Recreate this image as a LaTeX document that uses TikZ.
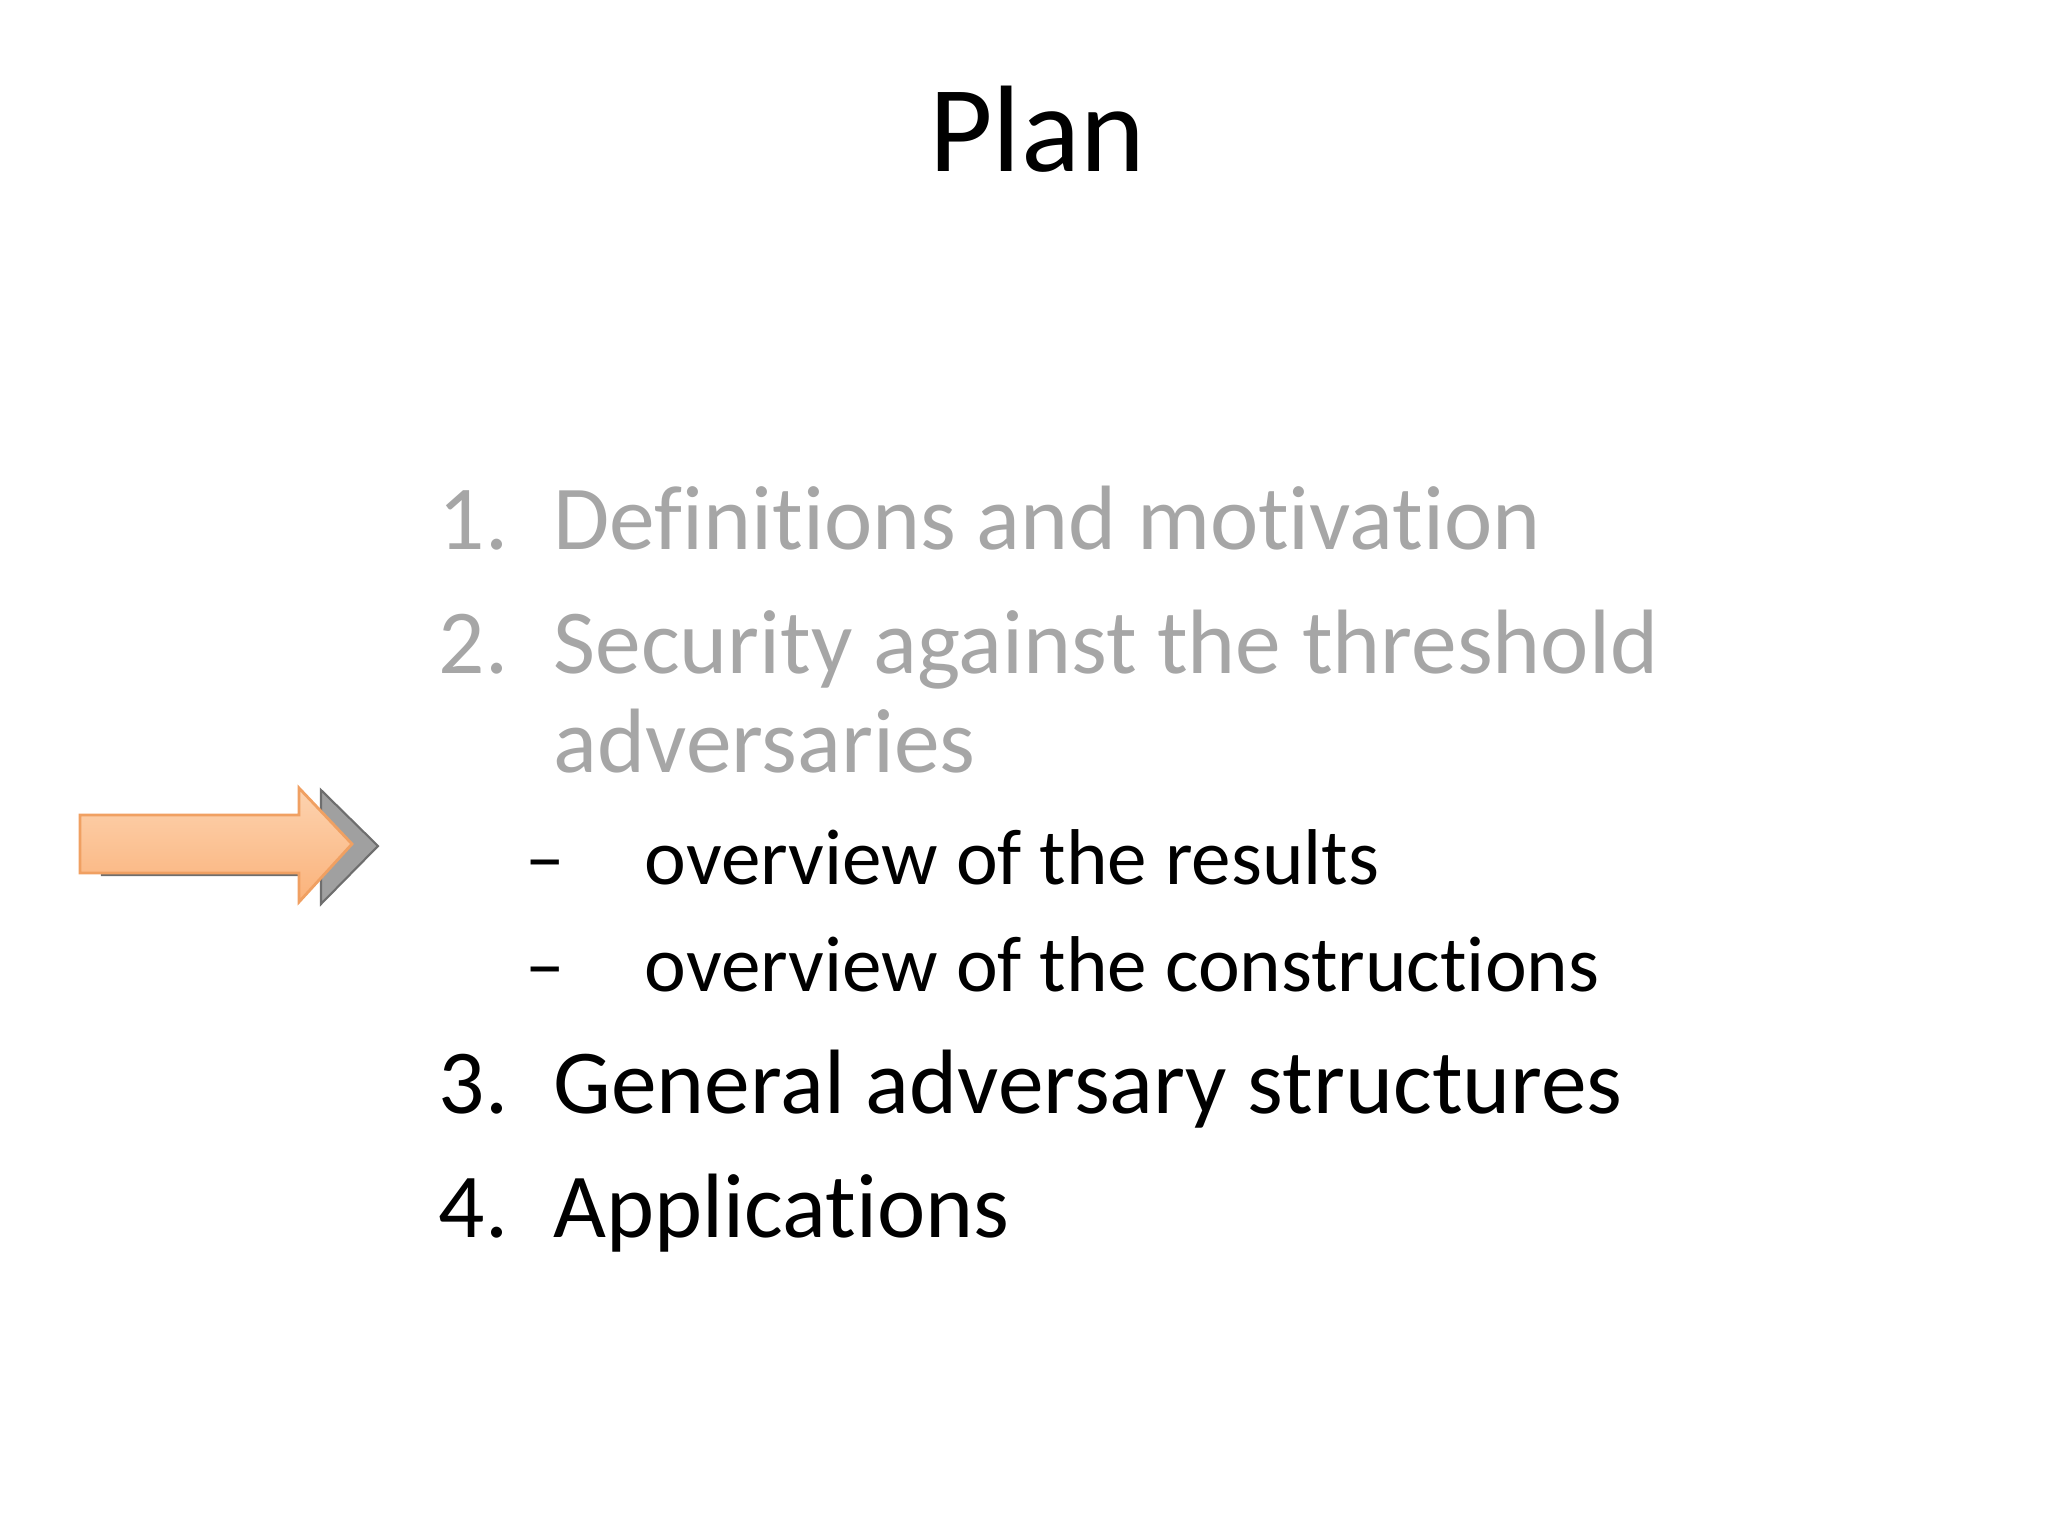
\documentclass[tikz,border=0pt]{standalone}
\usepackage{fontspec}
\setmainfont{Carlito}[RawFeature=-liga]
\definecolor{dim}{HTML}{A6A6A6}
\definecolor{arrline}{HTML}{F0A062}
\definecolor{arrtop}{HTML}{FCD3B0}
\definecolor{arrbot}{HTML}{FBB27A}
\begin{document}
\begin{tikzpicture}[x=0.01cm,y=-0.01cm,
  big/.style={anchor=base west,font=\fontsize{26}{30}\selectfont,inner sep=0pt},
  small/.style={anchor=base west,font=\fontsize{22.5}{24}\selectfont,inner sep=0pt}]
\useasboundingbox (0,0) rectangle (2048,1536);
\node[anchor=base,font=\fontsize{35}{40}\selectfont,inner sep=0pt] (title) at (1037,171) {Plan};
\node[big,text=dim] (n1) at (438,549) {1.};
\node[big,text=dim] (t1) at (553,549) {Definitions and motivation};
\node[big,text=dim] (n2) at (438,673) {2.};
\node[big,text=dim] (t2) at (553,673) {Security against the threshold};
\node[big,text=dim] (t2b) at (553,772) {adversaries};
\node[small] (d1) at (525,884) {–};
\node[small] (s1) at (644,884) {overview of the results};
\node[small] (d2) at (525,991) {–};
\node[small] (s2) at (644,991) {overview of the constructions};
\node[big] (n3) at (438,1113) {3.};
\node[big] (t3) at (553,1113) {General adversary structures};
\node[big] (n4) at (438,1237) {4.};
\node[big] (t4) at (553,1237) {Applications};
% shadow arrow
\begin{scope}[shift={(22,2)}]
\draw[fill={rgb,255:red,160;green,160;blue,160},draw={rgb,255:red,110;green,110;blue,110},line width=0.6pt]
 (80,815) -- (299,815) -- (299,788) -- (356,844) -- (299,902) -- (299,873) -- (80,873) -- cycle;
\end{scope}
\draw[top color=arrtop,bottom color=arrbot,draw=arrline,line width=0.8pt]
 (80,815) -- (299,815) -- (299,788) -- (352,844) -- (299,902) -- (299,873) -- (80,873) -- cycle;
\end{tikzpicture}
\end{document}
